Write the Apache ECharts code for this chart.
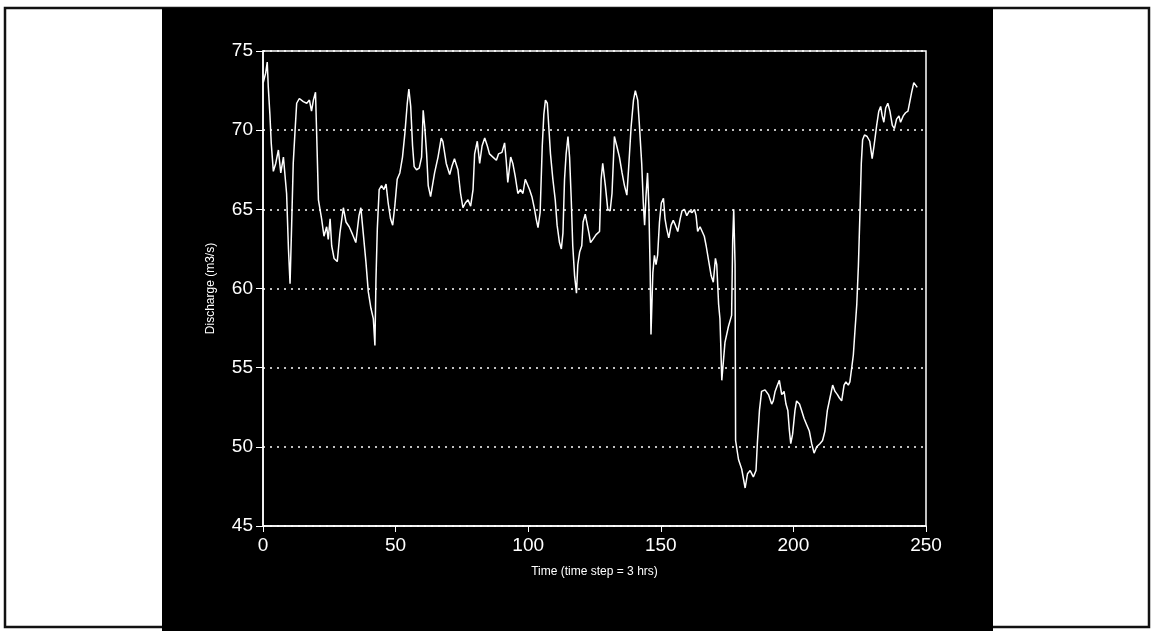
<!DOCTYPE html>
<html>
<head>
<meta charset="utf-8">
<title>Discharge</title>
<script src="https://cdn.jsdelivr.net/npm/echarts@6/dist/echarts.min.js"></script>
<style>
	html, body { margin: 0; padding: 0; background: #fff; }
	#chart { width: 1155px; height: 631px; }
</style>
</head>
<body>
<div id="chart"></div>
<script>
	'use strict'

	/*-----data-----*/
	var timeSteps = [0.1, 1.0, 1.6, 2.0, 2.6, 3.1, 3.9, 4.8, 5.8, 6.7, 7.7, 8.9, 9.6, 10.2, 10.8, 11.4, 12.1, 12.7, 13.7, 15.2,
		16.5, 17.5, 18.3, 19.0, 19.8, 20.2, 20.9, 22.1, 23.0, 24.0, 24.6, 25.3, 25.9, 26.8, 28.0, 29.0, 30.3, 31.3, 32.5, 33.8,
		35.0, 36.2, 36.9, 37.8, 38.8, 39.7, 40.7, 41.6, 42.2, 42.6, 43.1, 43.8, 44.7, 45.6, 46.4, 47.2, 48.1, 48.9, 49.7, 50.6,
		51.6, 52.6, 53.5, 54.4, 55.0, 55.7, 56.4, 57.0, 57.9, 58.9, 59.8, 60.4, 61.0, 61.7, 62.3, 63.2, 64.7, 66.0, 67.2, 67.8,
		69.1, 70.4, 71.2, 72.2, 73.5, 74.5, 75.4, 76.3, 77.3, 78.3, 79.2, 79.8, 80.8, 81.7, 82.6, 83.6, 84.6, 85.4, 86.7, 88.0,
		88.8, 90.1, 91.1, 91.7, 92.3, 93.4, 94.2, 95.1, 96.1, 97.1, 98.0, 98.9, 99.6, 100.5, 101.4, 102.4, 103.0, 103.7, 104.5, 105.3,
		105.9, 106.5, 107.2, 107.7, 108.4, 109.3, 110.2, 110.9, 111.8, 112.5, 113.1, 113.7, 114.3, 115.0, 115.6, 116.2, 116.8, 117.5, 118.2, 118.7,
		119.4, 120.2, 120.7, 121.5, 122.2, 122.9, 123.5, 124.4, 125.6, 126.9, 127.5, 128.1, 129.1, 130.0, 130.9, 131.6, 132.5, 133.4, 134.4, 135.4,
		136.3, 137.2, 137.9, 138.8, 139.7, 140.4, 141.3, 141.9, 142.8, 143.4, 143.9, 144.4, 145.0, 145.5, 146.0, 146.3, 147.0, 147.6, 148.2, 148.8,
		149.5, 150.2, 151.0, 151.6, 152.2, 153.0, 153.9, 154.7, 155.5, 156.4, 157.3, 158.0, 158.9, 159.8, 160.8, 161.8, 162.7, 163.3, 163.9, 164.8,
		165.5, 166.4, 167.1, 168.1, 169.0, 169.8, 170.6, 171.1, 171.8, 172.3, 172.6, 173.0, 174.2, 175.5, 176.7, 177.1, 177.5, 178.0, 178.2, 179.3,
		180.5, 181.8, 182.7, 183.7, 184.9, 185.9, 186.4, 187.2, 188.0, 189.3, 190.6, 191.8, 192.4, 193.1, 194.0, 194.7, 195.6, 196.5, 197.2, 197.9,
		198.5, 199.0, 199.7, 200.6, 201.2, 202.3, 203.1, 204.0, 205.0, 206.0, 206.9, 207.8, 208.8, 210.0, 211.0, 211.9, 212.8, 213.8, 214.8, 215.7,
		216.6, 217.3, 218.2, 219.1, 219.8, 220.7, 221.3, 222.0, 222.6, 223.2, 223.9, 224.5, 225.1, 225.6, 226.1, 226.8, 227.8, 228.8, 229.7, 230.4,
		231.4, 232.2, 232.9, 233.5, 234.1, 234.8, 235.6, 236.4, 237.3, 238.1, 238.9, 239.8, 240.4, 241.4, 242.3, 243.2, 243.9, 244.6, 245.4, 246.0,
		246.7];
	var discharge = [73.0, 73.6, 74.3, 72.7, 71.0, 69.2, 67.4, 67.9, 68.75, 67.3, 68.3, 66.0, 62.5, 60.3, 64.0, 67.9, 70.0, 71.7, 72.0, 71.8,
		71.7, 71.9, 71.2, 71.9, 72.4, 70.0, 65.6, 64.4, 63.3, 63.9, 63.1, 64.4, 62.7, 61.9, 61.7, 63.5, 65.1, 64.2, 63.9, 63.4,
		62.9, 64.6, 65.1, 63.5, 61.7, 59.8, 58.75, 58.1, 56.4, 60.6, 63.75, 66.25, 66.5, 66.25, 66.6, 65.4, 64.4, 64.0, 65.2, 66.9,
		67.3, 68.3, 69.8, 71.7, 72.6, 71.5, 69.0, 67.7, 67.5, 67.6, 68.3, 71.25, 70.2, 68.5, 66.5, 65.8, 67.3, 68.3, 69.5, 69.3,
		67.9, 67.2, 67.7, 68.2, 67.5, 66.0, 65.1, 65.4, 65.6, 65.2, 66.25, 68.5, 69.3, 67.9, 69.0, 69.5, 69.0, 68.5, 68.3, 68.1,
		68.5, 68.6, 69.2, 68.1, 66.7, 68.3, 67.9, 67.1, 66.0, 66.25, 66.0, 66.9, 67.0, 66.25, 65.8, 65.0, 64.4, 63.85, 64.8, 69.0,
		71.0, 71.9, 71.7, 70.4, 68.5, 66.9, 65.6, 64.0, 62.9, 62.5, 63.5, 66.9, 68.5, 69.6, 68.3, 65.8, 62.7, 60.8, 59.7, 61.5,
		62.3, 62.7, 64.2, 64.7, 64.6, 63.5, 62.9, 63.1, 63.4, 63.6, 66.9, 67.9, 66.5, 65.0, 64.9, 66.0, 69.6, 69.0, 68.3, 67.3,
		66.5, 65.9, 67.7, 70.2, 71.9, 72.5, 71.9, 70.4, 67.9, 65.4, 64.0, 65.8, 67.3, 65.2, 61.0, 57.1, 61.0, 62.1, 61.5, 62.1,
		64.2, 65.4, 65.7, 64.4, 63.8, 63.2, 64.0, 64.3, 64.0, 63.6, 64.4, 64.9, 65.0, 64.6, 64.9, 64.8, 65.0, 64.6, 63.6, 63.9,
		63.8, 63.3, 62.7, 61.7, 60.8, 60.4, 61.9, 61.5, 59.0, 58.1, 56.5, 54.2, 56.6, 57.6, 58.3, 63.0, 65.0, 61.5, 50.4, 49.2,
		48.6, 47.4, 48.3, 48.5, 48.1, 48.5, 50.2, 52.3, 53.5, 53.6, 53.3, 52.7, 52.9, 53.5, 53.9, 54.2, 53.3, 53.5, 52.7, 52.3,
		51.0, 50.2, 50.8, 52.3, 52.9, 52.7, 52.3, 51.8, 51.4, 51.0, 50.2, 49.6, 50.0, 50.2, 50.4, 51.0, 52.3, 53.1, 53.9, 53.5,
		53.3, 53.1, 52.9, 53.9, 54.1, 53.9, 54.1, 55.0, 55.8, 57.3, 59.0, 61.4, 64.8, 67.9, 69.4, 69.7, 69.6, 69.3, 68.2, 69.0,
		70.3, 71.2, 71.5, 70.9, 70.5, 71.4, 71.7, 71.2, 70.3, 70.1, 70.7, 70.9, 70.5, 70.9, 71.1, 71.2, 71.8, 72.4, 73.0, 72.9,
		72.7];
	var xTicks = [0, 50, 100, 150, 200, 250];
	var yTicks = [45, 50, 55, 60, 65, 70, 75];

	var seriesData = timeSteps.map(function(t, i) {
		return [t, discharge[i]];
	});

	var chart = echarts.init(document.getElementById('chart'));
	var font = '"Liberation Sans", Arial, sans-serif';
	var option = {
		backgroundColor: '#fff',
		animation: false,
		graphic: [{
			// outer frame
			type: 'rect',
			shape: { x: 5, y: 8, width: 1144, height: 619 },
			style: { fill: '#fff', stroke: '#111', lineWidth: 2.5 },
			z: -10
		}, {
			// black panel
			type: 'rect',
			shape: { x: 162, y: 8, width: 831, height: 623 },
			style: { fill: '#000' },
			z: -9
		}],
		grid: {
			left: 263,
			top: 51,
			width: 663,
			height: 475,
			show: true,
			borderColor: '#fff',
			borderWidth: 1.5,
			backgroundColor: 'transparent'
		},
		xAxis: {
			type: 'value',
			min: xTicks[0],
			max: xTicks[xTicks.length - 1],
			interval: xTicks[1] - xTicks[0],
			name: 'Time (time step = 3 hrs)',
			nameLocation: 'middle',
			nameGap: 40,
			nameTextStyle: { color: '#fff', fontSize: 12, fontFamily: font },
			axisLine: { lineStyle: { color: '#fff', width: 1.5 } },
			axisTick: { show: true, inside: false, length: 6, lineStyle: { color: '#fff' } },
			axisLabel: { color: '#fff', fontSize: 19, fontFamily: font, margin: 10 },
			splitLine: { show: false }
		},
		yAxis: {
			type: 'value',
			min: yTicks[0],
			max: yTicks[yTicks.length - 1],
			interval: yTicks[1] - yTicks[0],
			name: 'Discharge (m3/s)',
			nameLocation: 'middle',
			nameGap: 46,
			nameTextStyle: { color: '#fff', fontSize: 12, fontFamily: font },
			axisLine: { lineStyle: { color: '#fff', width: 1.5 } },
			axisTick: { show: true, inside: false, length: 7, lineStyle: { color: '#fff' } },
			axisLabel: { color: '#fff', fontSize: 19, fontFamily: font, margin: 10 },
			splitLine: { show: true, lineStyle: { color: '#fff', type: [2, 5], width: 1.5 } }
		},
		series: [{
			name: 'Discharge',
			type: 'line',
			data: seriesData,
			showSymbol: false,
			smooth: false,
			lineStyle: { color: '#fff', width: 1.5 }
		}]
	};
	chart.setOption(option);
</script>
</body>
</html>
